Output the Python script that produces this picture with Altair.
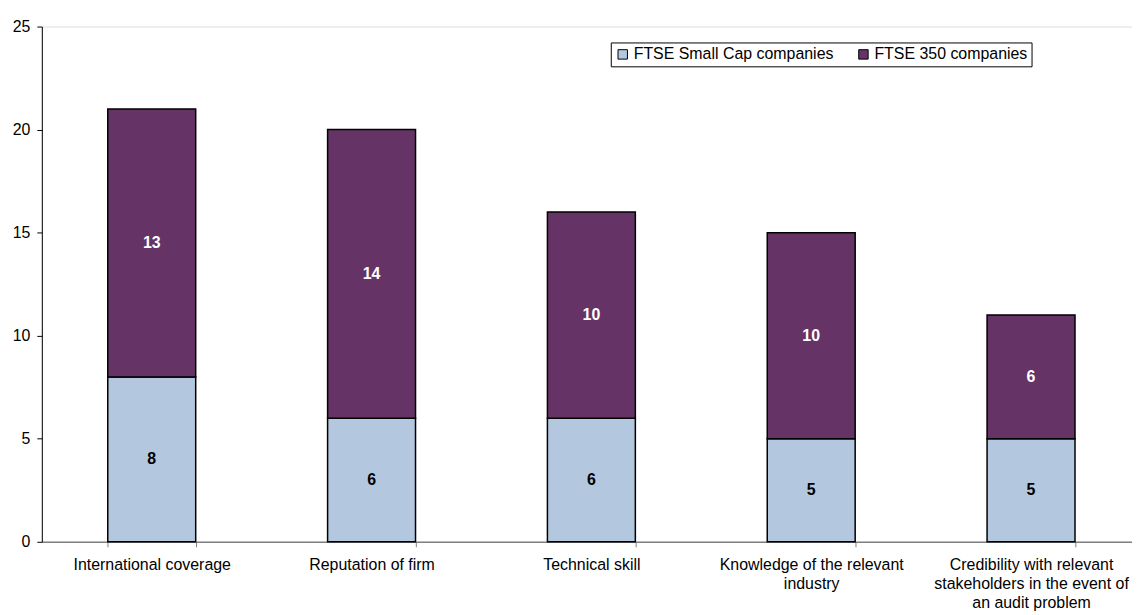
import altair as alt
import pandas as pd

categories = [
    "International coverage",
    "Reputation of firm",
    "Technical skill",
    "Knowledge of the relevant\nindustry",
    "Credibility with relevant\nstakeholders in the event of\nan audit problem",
]
series_names = ["FTSE Small Cap companies", "FTSE 350 companies"]
small_cap = [8, 6, 6, 5, 5]
ftse350 = [13, 14, 10, 10, 6]
series_colors = ["#B3C8DF", "#663366"]
label_colors = ["#000000", "#FFFFFF"]
y_ticks = [0, 5, 10, 15, 20, 25]

rows = []
for i, c in enumerate(categories):
    rows.append({"cat": c, "series": series_names[0], "value": small_cap[i], "ord": 0})
    rows.append({"cat": c, "series": series_names[1], "value": ftse350[i], "ord": 1})
df = pd.DataFrame(rows)

FONT = "Liberation Sans"

x_enc = alt.X(
    "cat:N",
    sort=categories,
    title=None,
    scale=alt.Scale(range=[0, 1105], paddingInner=0.6, paddingOuter=0.3),
    axis=alt.Axis(
        labelAngle=0,
        labelExpr="split(datum.label, '\\n')",
        labelFontSize=16,
        labelLineHeight=19,
        labelPadding=10,
        labelColor="#000000",
        labelFont=FONT,
        tickBand="extent",
        tickSize=5,
        tickColor="#808080",
        domainColor="#808080",
        domainWidth=1.5,
        labelLimit=400,
    ),
)

bars = alt.Chart(df).mark_bar(stroke="#000000", strokeWidth=1.5).encode(
    x=x_enc,
    y=alt.Y(
        "value:Q",
        stack="zero",
        title=None,
        scale=alt.Scale(domain=[0, 25], nice=False),
        axis=alt.Axis(
            values=y_ticks,
            grid=False,
            labelFontSize=16,
            labelFont=FONT,
            labelColor="#000000",
            labelPadding=7,
            tickSize=5,
            tickColor="#000000",
            domainColor="#000000",
        ),
    ),
    color=alt.Color(
        "series:N",
        sort=series_names,
        scale=alt.Scale(domain=series_names, range=series_colors),
        legend=alt.Legend(
            title=None,
            orient="none",
            legendX=572,
            legendY=16,
            direction="horizontal",
            symbolType="square",
            symbolSize=90,
            symbolStrokeColor="#000000",
            symbolStrokeWidth=1,
            symbolOpacity=1,
            labelFontSize=16,
            labelFont=FONT,
            labelColor="#000000",
            strokeColor="#000000",
            fillColor="#FFFFFF",
            padding=4,
            columnPadding=22,
            labelOffset=3,
            labelLimit=400,
        ),
    ),
    order=alt.Order("ord:Q"),
)

labels = (
    alt.Chart(df)
    .transform_stack(stack="value", as_=["v0", "v1"], groupby=["cat"], sort=[alt.SortField("ord")])
    .transform_calculate(mid="(datum.v0 + datum.v1) / 2")
    .mark_text(fontSize=16, fontWeight="bold", font=FONT, baseline="middle")
    .encode(
        x=alt.X("cat:N", sort=categories),
        y=alt.Y("mid:Q"),
        text=alt.Text("value:Q"),
        color=alt.Color(
            "series:N",
            scale=alt.Scale(domain=series_names, range=label_colors),
            legend=None,
        ),
    )
)

chart = (
    alt.layer(bars, labels)
    .resolve_scale(color="independent")
    .properties(
        width=1096,
        height=518,
        autosize=alt.AutoSizeParams(type="none"),
        padding={"left": 34, "top": 17, "right": 0, "bottom": 80},
    )
    .configure_view(stroke=None)
    .configure(background="#FFFFFF")
)

chart.save("out.html", embed_options={"renderer": "svg", "actions": False})
